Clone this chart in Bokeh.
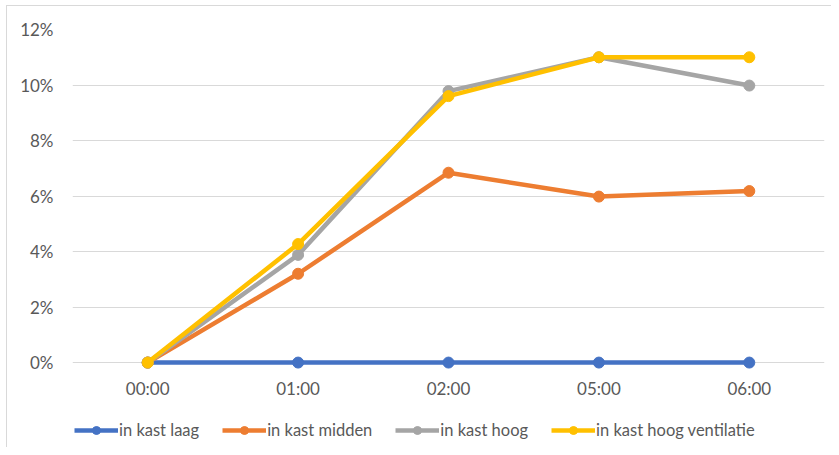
from bokeh.plotting import figure
from bokeh.models import FixedTicker, NumeralTickFormatter, Legend, LegendItem
from bokeh.embed import file_html
from bokeh.resources import INLINE

categories = ["00:00", "01:00", "02:00", "05:00", "06:00"]
series_names = ["in kast laag", "in kast midden", "in kast hoog", "in kast hoog ventilatie"]
laag = [0.0, 0.0, 0.0, 0.0, 0.0]
midden = [0.0, 0.032, 0.0684, 0.0598, 0.0618]
hoog = [0.0, 0.0388, 0.0978, 0.110, 0.0998]
hoog_ventilatie = [0.0, 0.0427, 0.096, 0.110, 0.110]
y_ticks = [0.0, 0.02, 0.04, 0.06, 0.08, 0.10, 0.12]

colors = ["#4472C4", "#ED7D31", "#A5A5A5", "#FFC000"]
FONT = "Lato"
TXT = "#595959"

# frame extends to the bottom of the chart so the legend sits inside it;
# the value axis still runs 0..12% (0% at the same height as in the reference)
p = figure(x_range=categories, y_range=(-0.0306, 0.12), width=831, height=447,
           frame_width=752, frame_height=418,
           output_backend="svg", toolbar_location=None,
           min_border_left=72, min_border_right=7, min_border_top=29, min_border_bottom=0)
p.outline_line_color = None
p.background_fill_color = "white"
p.border_fill_color = None
p.styles = {"box-shadow": "inset 6px 5px 0 0 white, inset 7px 6px 0 0 #D9D9D9",
            "background-color": "white"}

p.xgrid.grid_line_color = None
p.ygrid.grid_line_color = "#D9D9D9"
p.ygrid.grid_line_width = 1

p.yaxis.ticker = FixedTicker(ticks=y_ticks)
p.yaxis.formatter = NumeralTickFormatter(format="0%")
for ax in (p.xaxis[0], p.yaxis[0]):
    ax.axis_line_color = None
    ax.major_tick_line_color = None
    ax.minor_tick_line_color = None
    ax.major_tick_out = 0
    ax.major_tick_in = 0
    ax.minor_tick_out = 0
    ax.major_label_text_color = TXT
    ax.major_label_text_font = FONT
    ax.major_label_text_font_size = "17px"
p.yaxis.major_label_standoff = 19
p.xaxis.major_label_standoff = 15
p.xaxis.fixed_location = 0

items = []
for name, vals, c in zip(series_names, [laag, midden, hoog, hoog_ventilatie], colors):
    r1 = p.line(categories, vals, line_color=c, line_width=4.5)
    r2 = p.scatter(categories, vals, size=11, fill_color=c, line_color=c)
    items.append(LegendItem(label=name, renderers=[r1, r2]))

legend = Legend(items=items, orientation="horizontal", location=(2, 7),
                glyph_width=44, glyph_height=20, label_standoff=1, spacing=23,
                padding=0, margin=0, border_line_color=None, background_fill_alpha=0,
                label_text_font=FONT, label_text_font_size="16.5px", label_text_color=TXT,
                label_height=20)
p.add_layout(legend, "center")

open("out.html", "w").write(file_html(p, INLINE))
